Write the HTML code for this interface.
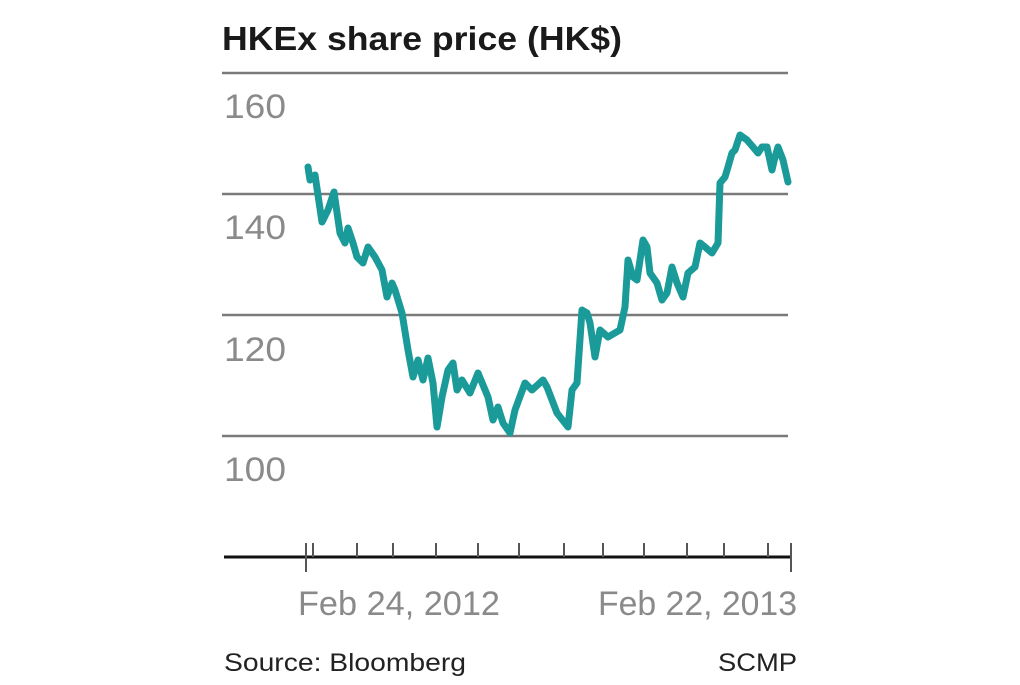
<!DOCTYPE html>
<html><head><style>
body{margin:0;background:#fff;}
svg text{font-family:"Liberation Sans",sans-serif;}
</style></head><body>
<svg width="1020" height="680" viewBox="0 0 1020 680" xmlns="http://www.w3.org/2000/svg">
<text x="222" y="50" font-size="33" font-weight="bold" fill="#1a1a1a" textLength="400" lengthAdjust="spacingAndGlyphs">HKEx share price (HK$)</text>
<g stroke="#7a7a7a" stroke-width="2.5">
<line x1="222" y1="73" x2="788" y2="73"/>
<line x1="222" y1="194" x2="788" y2="194"/>
<line x1="222" y1="315" x2="788" y2="315"/>
<line x1="222" y1="436" x2="788" y2="436"/>
</g>
<g font-size="34" fill="#8a8a8a">
<text x="224" y="118" textLength="62" lengthAdjust="spacingAndGlyphs">160</text>
<text x="224" y="239" textLength="62" lengthAdjust="spacingAndGlyphs">140</text>
<text x="224" y="361" textLength="62" lengthAdjust="spacingAndGlyphs">120</text>
<text x="224" y="481" textLength="62" lengthAdjust="spacingAndGlyphs">100</text>
</g>
<polyline fill="none" stroke="#1a9a98" stroke-width="7" stroke-linejoin="round" stroke-linecap="round" points="308,167 310,180 315,175 322,222 328,210 334,192 340,233 345,243 348,228 353,243 357,257 363,263 368,247 375,257 382,270 387,297 392,283 395,290 402,313 408,350 413,377 418,360 423,380 428,358 433,383 437,427 442,397 448,370 453,363 457,390 462,380 470,393 478,373 488,397 493,420 498,407 503,423 510,433 515,410 525,383 532,390 543,380 547,387 557,413 568,427 572,390 577,383 582,310 587,313 590,323 595,357 600,330 608,337 620,330 625,307 628,260 633,277 637,280 643,240 647,247 650,273 657,283 662,300 667,293 672,267 677,283 683,297 688,273 695,267 700,243 705,247 712,253 718,243 720,183 725,177 728,167 732,153 735,150 740,135 747,140 753,147 758,153 762,147 767,147 772,170 775,157 778,147 783,160 788,182"/>
<line x1="224" y1="557" x2="791" y2="557" stroke="#111" stroke-width="3"/>
<g stroke="#555" stroke-width="2">
<line x1="306" y1="543" x2="306" y2="572"/>
<line x1="791" y1="543" x2="791" y2="572"/>
<line x1="313" y1="543" x2="313" y2="557"/>
<line x1="357" y1="543" x2="357" y2="557"/>
<line x1="393" y1="543" x2="393" y2="557"/>
<line x1="436" y1="543" x2="436" y2="557"/>
<line x1="478" y1="543" x2="478" y2="557"/>
<line x1="519" y1="543" x2="519" y2="557"/>
<line x1="564" y1="543" x2="564" y2="557"/>
<line x1="603" y1="543" x2="603" y2="557"/>
<line x1="644" y1="543" x2="644" y2="557"/>
<line x1="687" y1="543" x2="687" y2="557"/>
<line x1="724" y1="543" x2="724" y2="557"/>
<line x1="768" y1="543" x2="768" y2="557"/>
</g>
<g font-size="34" fill="#8a8a8a">
<text x="298" y="615" textLength="202" lengthAdjust="spacingAndGlyphs">Feb 24, 2012</text>
<text x="598" y="615" textLength="199" lengthAdjust="spacingAndGlyphs">Feb 22, 2013</text>
</g>
<g font-size="25" fill="#222">
<text x="224" y="671" textLength="242" lengthAdjust="spacingAndGlyphs">Source: Bloomberg</text>
<text x="718" y="671" textLength="79" lengthAdjust="spacingAndGlyphs">SCMP</text>
</g>
</svg>
</body></html>
